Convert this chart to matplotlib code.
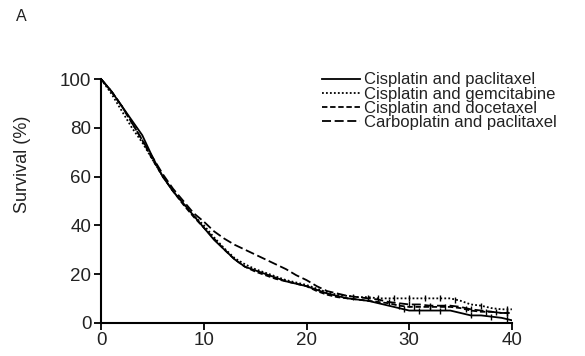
import matplotlib
matplotlib.use("Agg")
import matplotlib.pyplot as plt
import numpy as np

plt.rcParams['font.family'] = ['Liberation Sans', 'DejaVu Sans']

# months since randomisation
months = list(range(0, 41))

# survival (%), one value per month
cis_pac = [100, 95, 89, 83, 77, 68, 60, 54, 49, 44, 39, 34, 30, 26, 23, 21.5, 20, 18.5, 17, 16,
           15, 13.5, 12, 11, 10, 9.5, 9, 8, 7, 6, 5, 5, 5, 5, 5, 4, 3, 3, 2.5, 2, 1]
cis_gem = [100, 94, 87, 80, 74, 67, 60, 54, 49, 44, 40, 35, 30.5, 26.5, 24, 22, 20.5, 19, 17.5, 16.5,
           15.5, 14, 12.5, 11.5, 11, 10.5, 10.5, 10, 10, 10, 10, 10, 10, 10, 10, 9, 7.5, 7, 6, 5.5, 5.5]
cis_doc = [100, 95, 89, 82, 75, 67, 60, 54, 48.5, 43.5, 39, 34.5, 30, 26, 23, 21, 19.5, 18, 17, 16,
           15, 13, 11.5, 10.5, 10, 9.5, 9, 8.5, 8, 7, 6.5, 6.5, 6.5, 6.5, 6.5, 6, 5, 4.5, 4.5, 4, 4]
carbo_pac = [100, 95, 89, 82, 75, 68, 61, 55, 50, 45, 41.5, 37.5, 34.5, 32, 30, 28, 26, 24, 22, 19.5,
             17.5, 15, 13, 12, 11, 10.5, 10, 9.5, 8.5, 8, 7.5, 7.5, 7, 7, 7, 6.5, 5.5, 5, 4.5, 4, 4]

# censored observations (months) in the tails
cens_cis_pac = [29.5, 31, 33, 36, 38, 39.5]
cens_cis_gem = [27, 28.5, 30, 31.5, 33, 34.5, 37, 39.5]
cens_cis_doc = [29, 30.5, 32, 33.5, 35.5, 37.5, 39.5]
cens_carbo_pac = [24.5, 26, 28, 30, 32, 36, 38.5, 39.5]

labels = ["Cisplatin and paclitaxel", "Cisplatin and gemcitabine",
          "Cisplatin and docetaxel", "Carboplatin and paclitaxel"]
series = [cis_pac, cis_gem, cis_doc, carbo_pac]
censors = [cens_cis_pac, cens_cis_gem, cens_cis_doc, cens_carbo_pac]
styles = ["-", (0, (1, 1.2)), (0, (3, 1.5)), (0, (5, 2))]

ink = "#222222"

fig = plt.figure(figsize=(5.85, 3.56), dpi=100)
ax = fig.add_axes([0.173, 0.0935, 0.702, 0.684])

for vals, cens, ls, lab in zip(series, censors, styles, labels):
    ax.plot(months, vals, color="black", lw=1.3, linestyle=ls, label=lab)
    cy = np.interp(cens, months, vals)
    ax.plot(cens, cy, linestyle="none", marker="|", ms=5, mew=1, color="black")

ax.set_xlim(0, 40)
ax.set_ylim(0, 100)
ax.set_xticks([0, 10, 20, 30, 40])
ax.set_yticks([0, 20, 40, 60, 80, 100])
ax.spines["top"].set_visible(False)
ax.spines["right"].set_visible(False)
ax.spines["left"].set_linewidth(1.5)
ax.spines["bottom"].set_linewidth(1.5)
ax.tick_params(direction="out", length=5, width=1.3, labelsize=13.5, pad=2, labelcolor=ink)
ax.set_ylabel("Survival (%)", fontsize=13, color=ink)
ax.yaxis.set_label_coords(-0.17, 0.65)

leg = ax.legend(loc="upper right", bbox_to_anchor=(1.125, 1.055), frameon=False,
                fontsize=12, handlelength=2.3, handletextpad=0.2, labelspacing=-0.05,
                borderaxespad=0, labelcolor=ink)

fig.text(0.027, 0.94, "A", fontsize=11.5, color=ink)

fig.savefig("out.png", dpi=100)
